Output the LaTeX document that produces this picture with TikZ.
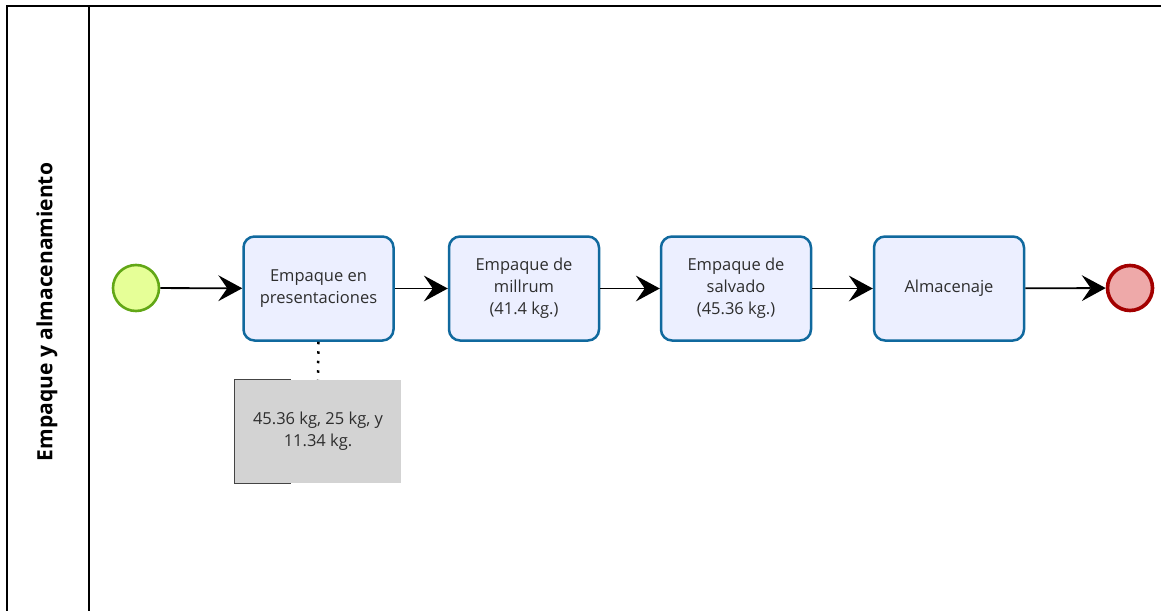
\documentclass[tikz,border=0pt]{standalone}
\usepackage{fontspec}
\setmainfont{Open Sans}
\usetikzlibrary{arrows.meta}
\definecolor{taskline}{HTML}{10699E}
\definecolor{taskfill}{HTML}{ECEFFF}
\definecolor{startline}{HTML}{62A716}
\definecolor{startfill}{HTML}{E6FF97}
\definecolor{endline}{HTML}{A30000}
\definecolor{endfill}{HTML}{EEA9A9}
\definecolor{txt}{HTML}{2E2E2E}
\definecolor{notefill}{HTML}{D3D3D3}
\definecolor{noteline}{HTML}{444444}
\tikzset{
  task/.style={draw=taskline, fill=taskfill, line width=2.5pt, rounded corners=11pt,
    minimum width=150pt, minimum height=104pt, align=center, text=txt,
    font=\fontsize{16.5pt}{22pt}\selectfont, inner sep=2pt},
  startev/.style={circle, draw=startline, fill=startfill, line width=2.6pt, minimum size=46pt, inner sep=0pt},
  endev/.style={circle, draw=endline, fill=endfill, line width=3.6pt, minimum size=45pt, inner sep=0pt},
  flow/.style={-{Stealth[length=24pt,width=26pt,inset=9pt,line width=0pt]}, line width=1.8pt, black},
  assoc/.style={line width=2.5pt, dash pattern=on 2.5pt off 7pt},
  notebox/.style={fill=notefill, minimum width=166pt, minimum height=103pt, align=center, text=txt,
    font=\fontsize{16.5pt}{22pt}\selectfont, inner sep=0pt},
}
\begin{document}
\begin{tikzpicture}[x=1pt,y=-1pt]
\useasboundingbox (0,0) rectangle (1161,610);
% pool and lane
\draw[line width=2pt] (7,612) -- (7,6) -- (1163,6);
\draw[line width=2pt] (89,6) -- (89,612);
\node[rotate=90, font=\bfseries\fontsize{21pt}{24pt}\selectfont] (lane) at (47,312) {Empaque y almacenamiento};
% events and tasks
\node[startev] (s) at (136,288) {};
\node[task] (t1) at (318.5,288.5) {Empaque en\\presentaciones};
\node[task] (t2) at (524,288.5) {Empaque de\\millrum\\(41.4 kg.)};
\node[task] (t3) at (736,288.5) {Empaque de\\salvado\\(45.36 kg.)};
\node[task] (t4) at (949,288.5) {Almacenaje};
\node[endev] (e) at (1130,288) {};
% sequence flows
\draw[flow] (s) -- (t1);
\draw[flow] (t1) -- (t2);
\draw[flow] (t2) -- (t3);
\draw[flow] (t3) -- (t4);
\draw[flow] (t4) -- (e);
% annotation
\node[notebox] (n) at (318,431.5) {45.36 kg, 25 kg, y\\11.34 kg.};
\draw[noteline, line width=1.2pt] ([xshift=56pt]n.north west) -- (n.north west) -- (n.south west) -- ([xshift=56pt]n.south west);
\draw[assoc] (t1.south) -- (n.north);
\end{tikzpicture}
\end{document}
